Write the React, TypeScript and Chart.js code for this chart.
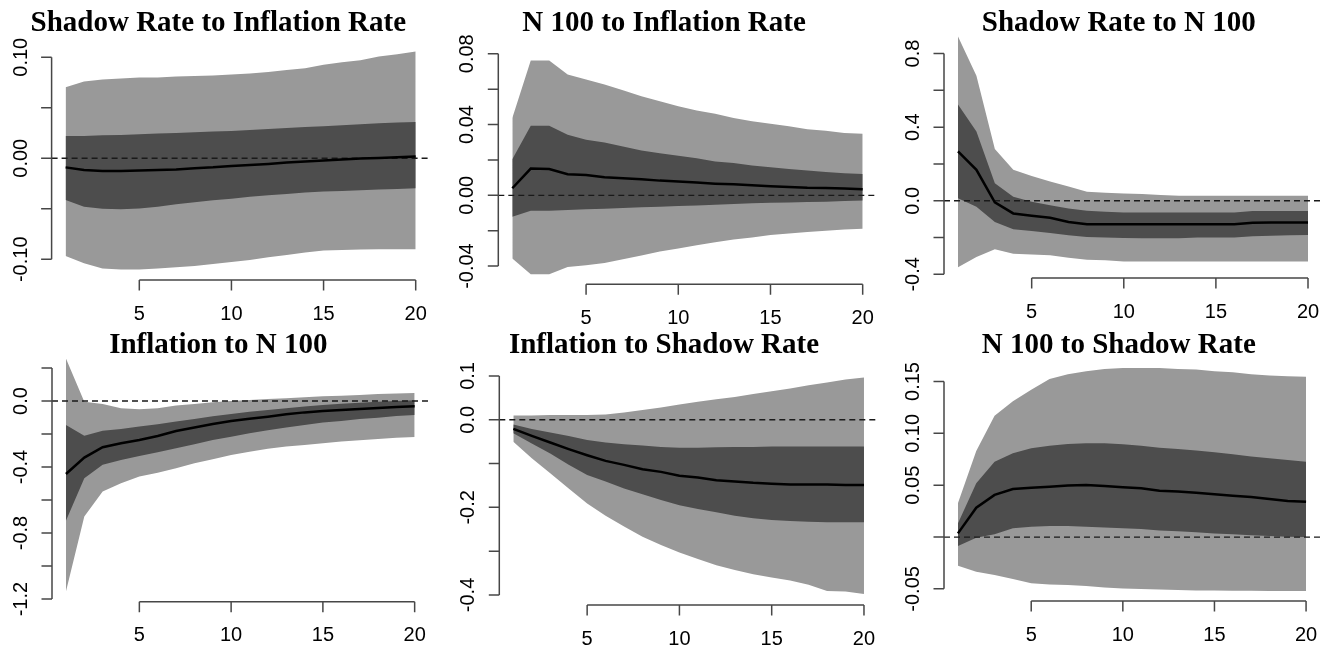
import React, { useEffect, useRef } from "react";
import { Chart, registerables } from "chart.js";

Chart.register(...registerables);

// ---------- data ----------
const horizons = [1, 2, 3, 4, 5, 6, 7, 8, 9, 10, 11, 12, 13, 14, 15, 16, 17, 18, 19, 20];
const xTickValues = [5, 10, 15, 20];

const panelTitles = [
  "Shadow Rate to Inflation Rate",
  "N 100 to Inflation Rate",
  "Shadow Rate to N 100",
  "Inflation to N 100",
  "Inflation to Shadow Rate",
  "N 100 to Shadow Rate",
];

// Panel 1: Shadow Rate to Inflation Rate
const p1Median = [-0.009, -0.0115, -0.0125, -0.0125, -0.0122, -0.0115, -0.011, -0.0099, -0.009, -0.0076, -0.0066, -0.0056, -0.0043, -0.0033, -0.0023, -0.0013, -0.0003, 0.0003, 0.001, 0.0017];
const p1InnerHi = [0.022, 0.022, 0.0228, 0.0231, 0.0238, 0.0244, 0.025, 0.0257, 0.0264, 0.027, 0.028, 0.029, 0.03, 0.031, 0.0317, 0.0327, 0.0337, 0.0347, 0.0353, 0.036];
const p1InnerLo = [-0.0413, -0.0479, -0.05, -0.0505, -0.0498, -0.0479, -0.0455, -0.0436, -0.0416, -0.04, -0.038, -0.0366, -0.0353, -0.034, -0.033, -0.0323, -0.0317, -0.031, -0.0304, -0.0297];
const p1OuterHi = [0.0703, 0.076, 0.078, 0.079, 0.08, 0.08, 0.081, 0.0815, 0.082, 0.083, 0.084, 0.0855, 0.0875, 0.089, 0.0925, 0.095, 0.097, 0.1007, 0.103, 0.1056];
const p1OuterLo = [-0.0967, -0.104, -0.1092, -0.11, -0.11, -0.109, -0.108, -0.1066, -0.1046, -0.1026, -0.1007, -0.098, -0.0957, -0.0934, -0.0914, -0.0908, -0.0904, -0.09, -0.09, -0.09];
const p1YTicks = [-0.1, -0.05, 0, 0.05, 0.1];
const p1YLabels = ["-0.10", "", "0.00", "", "0.10"];

// Panel 2: N 100 to Inflation Rate
const p2Median = [0.004, 0.0151, 0.0149, 0.0119, 0.0115, 0.0102, 0.0096, 0.0091, 0.0083, 0.0078, 0.0072, 0.0066, 0.0062, 0.0057, 0.0051, 0.0047, 0.0043, 0.0042, 0.0038, 0.0034];
const p2InnerHi = [0.0204, 0.0393, 0.0393, 0.0342, 0.0314, 0.0299, 0.0276, 0.0253, 0.0238, 0.0223, 0.021, 0.0191, 0.0182, 0.0168, 0.0159, 0.0149, 0.014, 0.0132, 0.0125, 0.0121];
const p2InnerLo = [-0.0121, -0.0087, -0.0087, -0.0083, -0.0079, -0.0076, -0.0072, -0.0068, -0.0064, -0.006, -0.0057, -0.0053, -0.0049, -0.0045, -0.0042, -0.004, -0.0038, -0.0036, -0.0032, -0.003];
const p2OuterHi = [0.0437, 0.0762, 0.0762, 0.0683, 0.0654, 0.0626, 0.0594, 0.056, 0.0531, 0.0503, 0.048, 0.0461, 0.0437, 0.0418, 0.0405, 0.039, 0.0374, 0.0365, 0.0352, 0.0348];
const p2OuterLo = [-0.0357, -0.0446, -0.0446, -0.0405, -0.0395, -0.0382, -0.0362, -0.034, -0.0318, -0.03, -0.0282, -0.0265, -0.025, -0.0238, -0.0225, -0.0216, -0.0208, -0.02, -0.0193, -0.0189];
const p2YTicks = [-0.04, -0.02, 0, 0.02, 0.04, 0.06, 0.08];
const p2YLabels = ["-0.04", "", "0.00", "", "0.04", "", "0.08"];

// Panel 3: Shadow Rate to N 100
const p3Median = [0.268, 0.168, -0.009, -0.069, -0.082, -0.093, -0.115, -0.128, -0.128, -0.128, -0.128, -0.128, -0.128, -0.128, -0.128, -0.128, -0.12, -0.118, -0.118, -0.118];
const p3InnerHi = [0.523, 0.377, 0.095, 0.022, -0.005, -0.024, -0.042, -0.055, -0.06, -0.064, -0.064, -0.064, -0.064, -0.064, -0.064, -0.064, -0.056, -0.056, -0.056, -0.056];
const p3InnerLo = [0.013, -0.033, -0.115, -0.155, -0.164, -0.175, -0.188, -0.197, -0.2, -0.202, -0.204, -0.204, -0.204, -0.2, -0.2, -0.2, -0.193, -0.19, -0.188, -0.186];
const p3OuterHi = [0.893, 0.68, 0.281, 0.168, 0.135, 0.104, 0.077, 0.049, 0.044, 0.04, 0.036, 0.031, 0.027, 0.027, 0.027, 0.027, 0.027, 0.027, 0.027, 0.027];
const p3OuterLo = [-0.361, -0.306, -0.264, -0.288, -0.292, -0.297, -0.31, -0.321, -0.324, -0.33, -0.33, -0.33, -0.33, -0.33, -0.33, -0.33, -0.33, -0.33, -0.33, -0.33];
const p3YTicks = [-0.4, -0.2, 0, 0.2, 0.4, 0.6, 0.8];
const p3YLabels = ["-0.4", "", "0.0", "", "0.4", "", "0.8"];

// Panel 4: Inflation to N 100
const p4Median = [-0.442, -0.343, -0.28, -0.256, -0.236, -0.212, -0.182, -0.161, -0.139, -0.121, -0.107, -0.095, -0.081, -0.069, -0.06, -0.054, -0.048, -0.042, -0.036, -0.032];
const p4InnerHi = [-0.145, -0.21, -0.18, -0.17, -0.155, -0.141, -0.125, -0.109, -0.093, -0.079, -0.065, -0.054, -0.044, -0.034, -0.024, -0.016, -0.01, -0.004, 0.0, 0.004];
const p4InnerLo = [-0.726, -0.468, -0.387, -0.357, -0.333, -0.31, -0.286, -0.262, -0.236, -0.216, -0.196, -0.177, -0.161, -0.145, -0.131, -0.121, -0.109, -0.101, -0.091, -0.085];
const p4OuterHi = [0.258, -0.004, -0.018, -0.044, -0.05, -0.044, -0.028, -0.018, -0.008, 0.0, 0.006, 0.012, 0.016, 0.022, 0.028, 0.032, 0.036, 0.042, 0.046, 0.048];
const p4OuterLo = [-1.154, -0.7, -0.549, -0.498, -0.458, -0.434, -0.407, -0.377, -0.353, -0.327, -0.307, -0.29, -0.276, -0.266, -0.256, -0.246, -0.238, -0.23, -0.222, -0.218];
const p4YTicks = [-1.2, -1.0, -0.8, -0.6, -0.4, -0.2, 0, 0.2];
const p4YLabels = ["-1.2", "", "-0.8", "", "-0.4", "", "0.0", ""];

// Panel 5: Inflation to Shadow Rate
const p5Median = [-0.021, -0.037, -0.052, -0.067, -0.081, -0.094, -0.103, -0.113, -0.119, -0.128, -0.132, -0.138, -0.141, -0.144, -0.146, -0.148, -0.148, -0.148, -0.149, -0.149];
const p5InnerHi = [-0.0106, -0.021, -0.029, -0.037, -0.046, -0.052, -0.056, -0.059, -0.062, -0.064, -0.064, -0.063, -0.062, -0.062, -0.061, -0.061, -0.061, -0.061, -0.061, -0.061];
const p5InnerLo = [-0.031, -0.054, -0.077, -0.103, -0.126, -0.141, -0.157, -0.17, -0.183, -0.195, -0.204, -0.211, -0.219, -0.225, -0.229, -0.231, -0.233, -0.234, -0.234, -0.234];
const p5OuterHi = [0.0099, 0.0099, 0.0106, 0.0106, 0.0106, 0.012, 0.0167, 0.022, 0.028, 0.035, 0.041, 0.047, 0.052, 0.0585, 0.065, 0.0715, 0.079, 0.085, 0.092, 0.0966];
const p5OuterLo = [-0.05, -0.088, -0.122, -0.157, -0.191, -0.219, -0.244, -0.267, -0.286, -0.303, -0.318, -0.332, -0.343, -0.353, -0.36, -0.367, -0.377, -0.391, -0.392, -0.398];
const p5YTicks = [-0.4, -0.3, -0.2, -0.1, 0, 0.1];
const p5YLabels = ["-0.4", "", "-0.2", "", "0.0", "0.1"];

// Panel 6: N 100 to Shadow Rate
const p6Median = [0.0035, 0.0283, 0.0406, 0.0463, 0.0476, 0.0486, 0.0496, 0.0502, 0.0492, 0.048, 0.047, 0.0447, 0.0438, 0.0428, 0.0412, 0.0399, 0.0386, 0.0367, 0.0348, 0.0341];
const p6InnerHi = [0.0132, 0.0518, 0.0727, 0.0808, 0.0856, 0.088, 0.0898, 0.0904, 0.0904, 0.0895, 0.088, 0.086, 0.085, 0.0834, 0.0818, 0.0798, 0.0776, 0.076, 0.0743, 0.0727];
const p6InnerLo = [-0.0087, -0.0006, 0.0026, 0.0084, 0.01, 0.0106, 0.0106, 0.01, 0.0093, 0.0084, 0.0077, 0.0064, 0.0055, 0.0045, 0.0035, 0.0026, 0.0016, 0.001, 0.0003, 0.0];
const p6OuterHi = [0.0325, 0.083, 0.117, 0.131, 0.142, 0.1525, 0.157, 0.16, 0.162, 0.163, 0.163, 0.163, 0.162, 0.1616, 0.16, 0.159, 0.157, 0.1558, 0.155, 0.1545];
const p6OuterLo = [-0.0277, -0.0335, -0.0367, -0.0406, -0.0447, -0.0457, -0.0463, -0.0473, -0.0486, -0.0496, -0.0502, -0.0505, -0.0512, -0.0515, -0.0515, -0.0518, -0.0518, -0.0521, -0.0521, -0.0521];
const p6YTicks = [-0.05, 0, 0.05, 0.1, 0.15];
const p6YLabels = ["-0.05", "", "0.05", "0.10", "0.15"];

// ---------- panels (data + scale ranges) ----------
const panels = [
  { title: panelTitles[0], median: p1Median, innerHi: p1InnerHi, innerLo: p1InnerLo, outerHi: p1OuterHi, outerLo: p1OuterLo, yTicks: p1YTicks, yLabels: p1YLabels, yMin: -0.1205, yMax: 0.1151 },
  { title: panelTitles[1], median: p2Median, innerHi: p2InnerHi, innerLo: p2InnerLo, outerHi: p2OuterHi, outerLo: p2OuterLo, yTicks: p2YTicks, yLabels: p2YLabels, yMin: -0.0503, yMax: 0.081 },
  { title: panelTitles[2], median: p3Median, innerHi: p3InnerHi, innerLo: p3InnerLo, outerHi: p3OuterHi, outerLo: p3OuterLo, yTicks: p3YTicks, yLabels: p3YLabels, yMin: -0.42, yMax: 0.939 },
  { title: panelTitles[3], median: p4Median, innerHi: p4InnerHi, innerLo: p4InnerLo, outerHi: p4OuterHi, outerLo: p4OuterLo, yTicks: p4YTicks, yLabels: p4YLabels, yMin: -1.216, yMax: 0.315 },
  { title: panelTitles[4], median: p5Median, innerHi: p5InnerHi, innerLo: p5InnerLo, outerHi: p5OuterHi, outerLo: p5OuterLo, yTicks: p5YTicks, yLabels: p5YLabels, yMin: -0.423, yMax: 0.117 },
  { title: panelTitles[5], median: p6Median, innerHi: p6InnerHi, innerLo: p6InnerLo, outerHi: p6OuterHi, outerLo: p6OuterLo, yTicks: p6YTicks, yLabels: p6YLabels, yMin: -0.0617, yMax: 0.1717 },
];

// ---------- layout (page pixels) ----------
const layouts = [
  { left: 0, top: 0, width: 440, height: 325, plotLeft: 51.6, plotRight: 429.7, plotTop: 42, plotBottom: 280, titleX: 218.3, titleY: 31 },
  { left: 440, top: 0, width: 440, height: 325, plotLeft: 498.3, plotRight: 876.7, plotTop: 52, plotBottom: 284.3, titleX: 664, titleY: 31 },
  { left: 880, top: 0, width: 447, height: 325, plotLeft: 944, plotRight: 1322, plotTop: 28, plotBottom: 278, titleX: 1118.8, titleY: 31 },
  { left: 0, top: 325, width: 440, height: 324, plotLeft: 52, plotRight: 428.6, plotTop: 349, plotBottom: 601.7, titleX: 218.3, titleY: 352.8 },
  { left: 440, top: 325, width: 440, height: 324, plotLeft: 499.3, plotRight: 878, plotTop: 368.5, plotBottom: 605, titleX: 664, titleY: 352.8 },
  { left: 880, top: 325, width: 447, height: 324, plotLeft: 944, plotRight: 1320, plotTop: 359, plotBottom: 601, titleX: 1118.8, titleY: 352.8 },
];

const X_FIRST = horizons[0];
const X_LAST = horizons[horizons.length - 1];
const X_MIN = X_FIRST - 0.04 * (X_LAST - X_FIRST);
const X_MAX = X_LAST + 0.04 * (X_LAST - X_FIRST);

const OUTER_COLOR = "#999999";
const INNER_COLOR = "#4d4d4d";
const AXIS_COLOR = "#474747";
const TICK_FONT = '20px "Liberation Sans", Arial, sans-serif';
const TITLE_FONT = 'bold 29px "Liberation Serif", "Times New Roman", serif';

function toPoints(values: number[]) {
  return horizons.map((h, i) => ({ x: h, y: values[i] }));
}

function Panel({ index }: { index: number }) {
  const ref = useRef<HTMLCanvasElement | null>(null);
  const p = panels[index];
  const L = layouts[index];

  useEffect(() => {
    const canvas = ref.current;
    if (!canvas) return;
    const localTitleX = L.titleX - L.left;
    const localTitleY = L.titleY - L.top;

    const axesPlugin = {
      id: "rAxes" + index,
      afterDraw(chart: any) {
        const ctx = chart.ctx as CanvasRenderingContext2D;
        const xs = chart.scales.x;
        const ys = chart.scales.y;
        const area = chart.chartArea;
        ctx.save();
        ctx.strokeStyle = AXIS_COLOR;
        ctx.lineWidth = 1.5;
        ctx.lineCap = "butt";
        // x axis (R style: from first to last tick)
        const xb = area.bottom;
        const xa = xs.getPixelForValue(xTickValues[0]);
        const xz = xs.getPixelForValue(xTickValues[xTickValues.length - 1]);
        ctx.beginPath();
        ctx.moveTo(xa, xb);
        ctx.lineTo(xz, xb);
        for (const t of xTickValues) {
          const px = xs.getPixelForValue(t);
          ctx.moveTo(px, xb);
          ctx.lineTo(px, xb + 10.5);
        }
        ctx.stroke();
        ctx.fillStyle = "#000";
        ctx.font = TICK_FONT;
        ctx.textAlign = "center";
        ctx.textBaseline = "alphabetic";
        for (const t of xTickValues) {
          ctx.fillText(String(t), xs.getPixelForValue(t), xb + 39.5);
        }
        // y axis
        const yl = area.left;
        const ya = ys.getPixelForValue(p.yTicks[0]);
        const yz = ys.getPixelForValue(p.yTicks[p.yTicks.length - 1]);
        ctx.beginPath();
        ctx.moveTo(yl, ya);
        ctx.lineTo(yl, yz);
        for (const t of p.yTicks) {
          const py = ys.getPixelForValue(t);
          ctx.moveTo(yl, py);
          ctx.lineTo(yl - 10.5, py);
        }
        ctx.stroke();
        p.yTicks.forEach((t, i) => {
          const lab = p.yLabels[i];
          if (!lab) return;
          const py = ys.getPixelForValue(t);
          ctx.save();
          ctx.translate(yl - 25, py);
          ctx.rotate(-Math.PI / 2);
          ctx.textAlign = "center";
          ctx.textBaseline = "alphabetic";
          ctx.fillText(lab, 0, 0);
          ctx.restore();
        });
        // title
        ctx.font = TITLE_FONT;
        ctx.textAlign = "center";
        ctx.textBaseline = "alphabetic";
        ctx.fillStyle = "#000";
        ctx.fillText(p.title, localTitleX, localTitleY);
        ctx.restore();
      },
    };

    const chart = new Chart(canvas, {
      type: "line",
      data: {
        datasets: [
          { data: toPoints(p.outerHi), fill: "+1", backgroundColor: OUTER_COLOR, borderColor: "rgba(0,0,0,0)", borderWidth: 0, pointRadius: 0, order: 5 },
          { data: toPoints(p.outerLo), fill: false, borderColor: "rgba(0,0,0,0)", borderWidth: 0, pointRadius: 0, order: 5 },
          { data: toPoints(p.innerHi), fill: "+1", backgroundColor: INNER_COLOR, borderColor: "rgba(0,0,0,0)", borderWidth: 0, pointRadius: 0, order: 4 },
          { data: toPoints(p.innerLo), fill: false, borderColor: "rgba(0,0,0,0)", borderWidth: 0, pointRadius: 0, order: 4 },
          { data: [{ x: X_MIN, y: 0 }, { x: X_MAX, y: 0 }], fill: false, borderColor: "#1a1a1a", borderWidth: 1.3, borderDash: [6, 4], pointRadius: 0, order: 2 },
          { data: toPoints(p.median), fill: false, borderColor: "#000", borderWidth: 2.5, pointRadius: 0, order: 1 },
        ],
      },
      options: {
        responsive: false,
        animation: false,
        devicePixelRatio: 1,
        layout: {
          padding: {
            left: L.plotLeft - L.left,
            right: L.left + L.width - L.plotRight,
            top: L.plotTop - L.top,
            bottom: L.top + L.height - L.plotBottom,
          },
        },
        plugins: { legend: { display: false }, tooltip: { enabled: false }, title: { display: false } },
        events: [],
        scales: {
          x: { type: "linear", min: X_MIN, max: X_MAX, display: false },
          y: { type: "linear", min: p.yMin, max: p.yMax, display: false },
        },
      },
      plugins: [axesPlugin],
    } as any);
    return () => chart.destroy();
  }, [index]);

  return (
    <canvas
      ref={ref}
      width={L.width}
      height={L.height}
      style={{ position: "absolute", left: L.left, top: L.top, width: L.width, height: L.height }}
    />
  );
}

export default function App() {
  return (
    <div style={{ position: "absolute", left: 0, top: 0, width: 1327, height: 649, background: "#fff", overflow: "hidden" }}>
      {panels.map((_, i) => (
        <Panel key={i} index={i} />
      ))}
    </div>
  );
}
